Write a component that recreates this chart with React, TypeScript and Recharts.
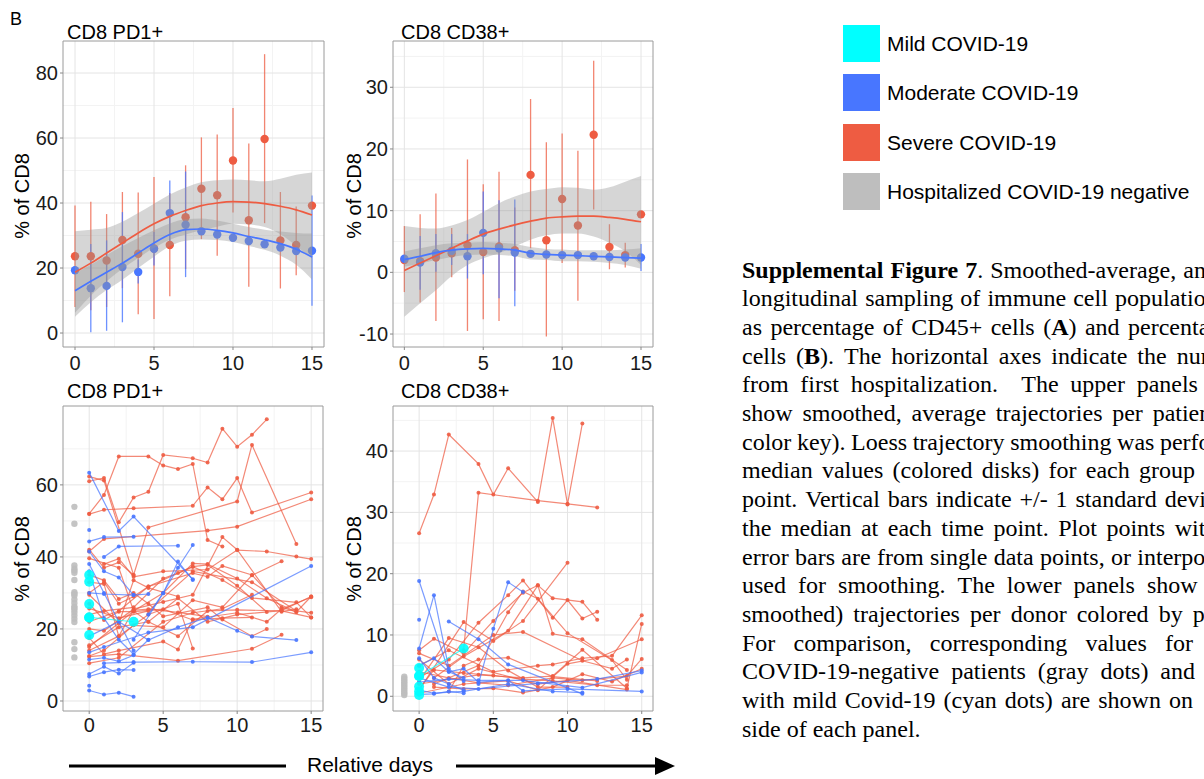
import React from 'react';
import {
  ComposedChart,
  Scatter,
  Line,
  Area,
  XAxis,
  YAxis,
  CartesianGrid,
  ErrorBar,
  ReferenceArea,
} from 'recharts';

const SEVERE = '#EE5C42';
const MODERATE = '#4876FF';
const MILD = '#00FFFF';
const NEGATIVE = '#BEBEBE';
const SANS = '"Liberation Sans", Arial, Helvetica, sans-serif';
const SERIF = '"Liberation Serif", "Times New Roman", Times, serif';

type Track = [number, number][];

// ---------- shared axis values ----------
const days = [0, 1, 2, 3, 4, 5, 6, 7, 8, 9, 10, 11, 12, 13, 14, 15];
const dayTicks = [0, 5, 10, 15];
const dayMinor = [2.5, 7.5, 12.5];

// ---------- CD8 PD1+ : group summaries ----------
const pd1SevereMedian = [23.6, 23.6, 22.3, 28.6, 24.4, 26.0, 27.1, 35.6, 44.4, 42.4, 53.1, 34.7, 59.7, 28.5, 27.1, 39.2];
const pd1SevereLow = [8.0, 7.0, 8.0, 13.8, 5.8, 4.3, 11.3, 19.7, 28.9, 23.8, 37.1, 14.2, 33.8, 13.7, 17.8, null];
const pd1SevereHigh = [39.2, 40.4, 36.6, 43.4, 43.2, 48.0, 43.1, 51.6, 60.2, 61.1, 69.2, 58.3, 85.8, 43.4, 38.9, null];
const pd1ModerateMedian = [19.3, 13.8, 14.5, 20.3, 18.8, 25.9, 36.9, 33.3, 31.3, 30.3, 29.3, 28.3, 27.3, 26.3, 25.2, 25.3];
const pd1ModerateLow = [null, 0.2, 0.7, 3.3, 15.2, 20.8, 27.0, 17.2, null, null, null, null, null, null, null, 8.4];
const pd1ModerateHigh = [null, 27.4, 28.5, 37.2, 22.6, 31.1, 46.9, 49.7, null, null, null, null, null, null, null, 42.3];

const pd1SevereFit = [18.7, 21.5, 24.6, 27.7, 30.8, 33.6, 35.9, 37.7, 39.2, 40.0, 40.4, 40.3, 39.8, 39.0, 37.9, 36.3];
const pd1SevereFitLow = [6.2, 11.5, 15.9, 19.8, 23.1, 26.2, 28.7, 30.3, 31.6, 32.7, 33.6, 33.4, 32.6, 30.4, 26.8, 23.0];
const pd1SevereFitHigh = [31.3, 31.8, 32.3, 34.2, 36.9, 39.8, 42.6, 44.8, 46.4, 47.0, 47.2, 47.0, 46.7, 47.5, 48.7, 49.4];
const pd1ModerateFit = [13.0, 15.9, 18.7, 21.5, 24.6, 27.7, 30.3, 31.8, 32.0, 31.6, 30.8, 29.7, 28.7, 27.5, 25.8, 23.4];
const pd1ModerateFitLow = [5.0, 9.5, 13.2, 16.4, 20.0, 23.5, 26.7, 28.4, 28.8, 28.6, 28.0, 26.8, 25.6, 23.8, 21.0, 16.5];
const pd1ModerateFitHigh = [18.5, 21.0, 24.0, 26.7, 29.2, 31.6, 33.7, 35.0, 35.2, 34.6, 33.6, 32.6, 31.8, 31.2, 30.8, 30.6];

// ---------- CD8 CD38+ : group summaries ----------
const cd38SevereMedian = [2.0, 1.8, 2.4, 3.1, 4.4, 3.3, 4.2, 3.6, 15.8, 5.2, 11.9, 7.6, 22.3, 4.1, 2.8, 9.4];
const cd38SevereLow = [-3.2, -4.9, -7.9, -0.8, -9.5, -7.6, -7.9, -3.0, 3.9, -10.4, 1.5, -4.6, 10.2, 0.5, 0.8, null];
const cd38SevereHigh = [7.5, 9.4, 12.8, 7.2, 18.3, 14.3, 16.3, 10.5, 28.1, 21.1, 22.5, 19.7, 34.3, 7.8, 4.8, null];
const cd38ModerateMedian = [2.2, 1.6, 3.1, 3.5, 2.6, 6.4, 3.9, 3.2, 3.0, 2.9, 2.8, 2.8, 2.6, 2.5, 2.4, 2.4];
const cd38ModerateLow = [null, -2.8, 0.1, 1.2, -1.0, -0.3, -4.2, -5.5, null, null, null, null, null, null, null, 0.2];
const cd38ModerateHigh = [null, 5.9, 6.2, 6.2, 6.2, 13.1, 11.7, 11.8, null, null, null, null, null, null, null, 4.6];

const cd38SevereFit = [0.3, 1.5, 2.7, 3.9, 5.1, 6.2, 7.0, 7.7, 8.3, 8.8, 9.0, 9.1, 9.1, 8.9, 8.6, 8.2];
const cd38SevereFitLow = [-7.2, -5.0, -2.9, -0.6, 1.2, 2.3, 3.1, 4.2, 5.3, 6.0, 6.3, 6.3, 5.8, 4.8, 3.4, 1.2];
const cd38SevereFitHigh = [7.5, 7.2, 7.1, 7.6, 8.5, 9.8, 11.2, 12.3, 13.1, 13.5, 13.8, 13.7, 13.4, 13.8, 14.7, 15.6];
const cd38ModerateFit = [2.1, 2.6, 3.2, 3.6, 3.8, 3.9, 3.8, 3.6, 3.1, 2.9, 2.8, 2.7, 2.6, 2.5, 2.4, 2.3];
const cd38ModerateFitLow = [0.9, 1.4, 2.0, 2.5, 2.8, 2.9, 2.8, 2.6, 2.1, 2.0, 1.8, 1.8, 1.7, 1.5, 1.2, 0.6];
const cd38ModerateFitHigh = [3.4, 3.9, 4.4, 4.7, 4.8, 4.9, 4.8, 4.6, 4.1, 3.8, 3.7, 3.6, 3.6, 3.6, 3.7, 3.9];

// ---------- CD8 PD1+ : per-donor trajectories ----------
const pd1SevereTracks: Track[] = [
  [[0, 52.0], [1, 57.2], [2, 67.9], [4, 67.9], [5, 65.4], [6, 64.4], [7, 65.8], [8, 44.7], [9, 42.9]],
  [[0, 61.0], [1, 61.9], [2, 49.6], [3, 56.5], [4, 58.1], [5, 68.3], [7, 67.4], [8, 66.2], [9, 75.6], [10, 70.6], [11, 73.9], [12, 78.2]],
  [[0, 51.9], [1, 53.1], [3, 53.5], [7, 54.2], [8, 59.3], [9, 56.0], [10, 61.9], [11, 52.3], [15, 57.9]],
  [[0, 62.3], [1, 61.2], [3, 35.0], [4, 48.2], [10, 55.4], [11, 71.1], [14, 43.6]],
  [[0, 41.5], [1, 45.0], [8, 47.3], [10, 48.4], [15, 56.0]],
  [[1, 38.0], [2, 39.5], [3, 34.5], [5, 36.0], [8, 36.5], [10, 41.9], [12, 41.5], [14, 40.1], [15, 39.4]],
  [[0, 15.0], [3, 25.0], [5, 30.0], [7, 38.2], [8, 38.0], [10, 34.0], [12, 28.5], [14, 24.7], [15, 29.0]],
  [[0, 22.0], [2, 25.0], [4, 31.8], [7, 37.3], [9, 33.6], [11, 28.6], [14, 27.4], [15, 23.2]],
  [[0, 12.5], [1, 14.0], [3, 21.0], [5, 20.5], [7, 28.0], [9, 26.0], [11, 34.9], [13, 38.8]],
  [[0, 25.7], [2, 23.0], [4, 25.0], [7, 36.0], [11, 33.0], [14, 25.0], [15, 24.5]],
  [[0, 30.0], [1, 33.0], [2, 27.0], [3, 29.0], [4, 31.8], [7, 35.5], [8, 34.5], [9, 37.5], [11, 35.0], [13, 26.0], [14, 24.7]],
  [[0, 12.3], [2, 13.0], [6, 11.2], [11, 14.5], [13, 18.4]],
  [[0, 14.0], [2, 18.0], [4, 24.0], [6, 27.0], [7, 14.6]],
  [[0, 35.0], [1, 33.5], [2, 28.3], [3, 30.0], [4, 27.0], [5, 23.5], [8, 26.0], [9, 22.6], [11, 18.0], [12, 20.0]],
  [[0, 20.0], [1, 19.5], [3, 25.5], [5, 27.5], [7, 29.5], [9, 45.5], [10, 42.0], [13, 24.8], [14, 25.5]],
  [[0, 39.6], [2, 37.0], [3, 25.0], [4, 22.0], [6, 18.0], [8, 25.0], [10, 25.3], [13, 25.0], [15, 23.2]],
  [[0, 27.0], [1, 22.5], [2, 24.8], [3, 24.8], [5, 25.5], [7, 22.5], [9, 23.0], [11, 23.2]],
  [[0, 17.5], [1, 13.0], [2, 14.0], [5, 16.5], [6, 14.3], [7, 22.7], [10, 24.5], [12, 22.0], [13, 25.5], [15, 28.8]],
  [[0, 10.5], [2, 12.0], [5, 22.0], [7, 24.5], [9, 25.6], [11, 29.5]],
  [[0, 24.0], [1, 25.0], [3, 26.0], [5, 34.0], [6, 35.5], [7, 37.3], [8, 37.8], [10, 32.0], [12, 24.7]],
  [[0, 15.5], [2, 20.5], [4, 22.0], [6, 28.5], [8, 22.0], [10, 24.0], [13, 25.1], [15, 29.0]],
  [[0, 33.0], [1, 32.5], [2, 18.0], [3, 25.2], [4, 25.5], [6, 24.6], [8, 23.4]],
  [[0, 29.5], [2, 21.5], [3, 33.5], [4, 31.4], [6, 29.0]],
  [[0, 42.0], [1, 37.0], [2, 38.5], [3, 35.0]],
];

const pd1ModerateTracks: Track[] = [
  [[0, 2.9], [1, 1.8], [2, 2.3], [3, 1.2]],
  [[0, 4.2]],
  [[0, 6.8], [1, 8.0], [2, 8.7], [3, 8.6]],
  [[0, 7.5], [1, 9.5], [2, 7.6], [3, 10.6]],
  [[1, 10.5], [3, 10.8], [7, 10.9], [11, 10.8], [15, 13.5]],
  [[0, 13.5], [1, 15.0], [4, 19.0], [7, 20.5], [15, 37.5]],
  [[0, 63.4], [2, 47.2], [3, 51.2], [7, 33.8]],
  [[0, 44.3], [1, 45.5], [3, 45.6]],
  [[1, 40.0], [2, 42.9], [6, 43.1]],
  [[0, 41.5], [1, 36.0], [2, 34.3], [3, 29.4], [4, 29.7]],
  [[0, 30.0], [1, 29.7], [3, 29.4]],
  [[0, 18.0], [2, 22.0], [4, 16.9], [6, 20.5], [8, 23.2], [10, 19.5], [11, 17.9], [14, 16.9]],
  [[3, 17.0], [5, 29.9], [6, 38.7], [7, 33.6]],
  [[4, 24.0], [5, 30.0], [6, 37.0], [7, 43.3]],
  [[0, 36.0], [1, 23.0], [2, 17.0], [3, 13.0], [4, 17.0]],
  [[0, 38.0], [1, 30.0], [3, 14.0]],
  [[0, 47.5]],
  [[0, 11.5], [1, 12.0], [2, 11.0], [3, 12.7]],
];

const pd1Negative = [53.9, 49.2, 37.6, 36.7, 36.2, 35.6, 33.6, 30.2, 29.8, 29.3, 28.2, 27.2, 26.2, 25.8, 25.3, 24.6, 23.7, 22.8, 21.9, 16.3, 14.4, 12.1];
const pd1Mild = [35.0, 33.1, 26.9, 23.2, 18.3];
const pd1MildTrack: Track = [[0, 23.2], [3, 22.0]];

// ---------- CD8 CD38+ : per-donor trajectories ----------
const cd38SevereTracks: Track[] = [
  [[0, 26.6], [1, 32.9], [2, 42.7], [4, 37.9], [5, 32.9], [6, 37.2], [8, 31.7], [9, 45.4], [10, 31.3], [11, 44.5]],
  [[3, 7.5], [4, 33.2], [8, 31.9], [10, 31.4], [12, 30.8]],
  [[0, 3.0], [2, 6.0], [4, 12.0], [6, 16.5], [7, 18.9], [9, 12.8], [10, 15.7], [11, 12.7], [12, 13.8]],
  [[0, 7.5], [1, 9.4], [3, 7.0], [5, 12.3], [7, 16.9], [8, 18.1], [9, 10.2], [11, 9.3], [14, 4.3]],
  [[1, 2.0], [4, 5.0], [6, 13.7], [7, 17.1], [8, 15.9], [10, 10.3], [13, 5.9], [14, 2.7]],
  [[0, 1.0], [3, 12.1], [5, 9.0], [7, 12.3], [10, 21.8]],
  [[1, 3.0], [3, 6.5], [6, 10.7], [8, 18.1], [9, 16.0], [11, 15.4], [12, 12.5]],
  [[0, 5.0], [2, 7.5], [5, 4.0], [8, 5.0], [9, 5.2], [11, 6.2], [13, 6.6], [15, 13.2]],
  [[0, 2.0], [4, 3.5], [7, 3.0], [9, 3.3], [11, 7.6], [14, 1.3], [15, 11.8]],
  [[0, 0.5], [3, 2.0], [6, 2.5], [8, 1.0], [10, 5.3], [12, 6.2], [15, 9.3]],
  [[0, 4.0], [2, 3.0], [4, 2.2], [6, 1.8], [9, 3.0], [11, 2.6], [14, 3.3], [15, 6.1]],
  [[1, 1.5], [3, 1.2], [5, 1.3], [7, 0.6], [9, 1.5], [11, 3.6], [13, 2.4], [15, 4.5]],
  [[0, 6.0], [2, 2.0], [4, 4.5], [8, 2.0], [10, 2.6], [14, 1.1]],
  [[0, 2.5], [2, 9.5], [4, 8.0], [6, 4.2], [8, 1.5], [10, 1.5]],
  [[0, 1.2], [1, 4.3], [3, 3.8], [5, 3.4], [7, 2.8], [9, 2.5], [12, 1.8], [14, 1.8]],
  [[2, 0.8], [3, 5.0], [4, 6.0], [6, 6.3], [9, 3.2], [12, 2.5]],
  [[0, 7.0], [2, 5.0], [5, 10.0], [7, 10.5], [11, 5.8], [13, 4.5], [14, 6.0]],
];

const cd38ModerateTracks: Track[] = [
  [[0, 18.8], [2, 4.0], [3, 3.0]],
  [[0, 7.8], [1, 16.5], [2, 4.5], [3, 2.5]],
  [[0, 12.5]],
  [[2, 12.2], [4, 9.3], [6, 5.2], [11, 0.4]],
  [[4, 2.0], [5, 11.0], [6, 18.6], [7, 17.0]],
  [[0, 5.0], [1, 6.2], [2, 4.0], [3, 4.5], [4, 2.3], [6, 2.6], [7, 0.9], [10, 1.2], [15, 0.8]],
  [[0, 3.0], [2, 1.5], [4, 1.2], [8, 2.1], [12, 2.8], [15, 4.2]],
  [[0, 1.0], [1, 0.5], [3, 0.8], [6, 2.0], [9, 0.8], [11, 0.6]],
  [[0, 6.2], [1, 3.0], [2, 2.0], [3, 1.0]],
  [[0, 0.3], [1, 0.4], [2, 0.8], [3, 0.5]],
  [[0, 2.3], [2, 2.8], [4, 2.6], [7, 2.6], [11, 1.4], [15, 3.9]],
];

const cd38Negative = [0.2, 0.5, 0.8, 1.1, 1.4, 1.7, 2.0, 2.3, 2.6, 2.9, 3.2];
const cd38Mild = [4.6, 3.3, 1.6, 0.8, 0.2];
const cd38MildTrack: Track = [[0, 3.3], [3, 7.8]];

// ---------- legend & caption text ----------
const legendLabels = ['Mild COVID-19', 'Moderate COVID-19', 'Severe COVID-19', 'Hospitalized COVID-19 negative'];
const legendColors = [MILD, MODERATE, SEVERE, NEGATIVE];

const captionLines: { words: string[]; width: number | null }[] = [
  { words: ['**Supplemental**', '**Figure**', '**7**.', 'Smoothed-average,', 'and'], width: 476 },
  { words: ['longitudinal', 'sampling', 'of', 'immune', 'cell', 'populations'], width: 485 },
  { words: ['as', 'percentage', 'of', 'CD45+', 'cells', '(**A**)', 'and', 'percentage'], width: 490 },
  { words: ['cells', '(**B**).', 'The', 'horizontal', 'axes', 'indicate', 'the', 'number'], width: 508 },
  { words: ['from', 'first', 'hospitalization.', '', 'The', 'upper', 'panels'], width: 456 },
  { words: ['show', 'smoothed,', 'average', 'trajectories', 'per', 'patient'], width: 476 },
  { words: ['color', 'key).', 'Loess', 'trajectory', 'smoothing', 'was', 'performed'], width: 518 },
  { words: ['median', 'values', '(colored', 'disks)', 'for', 'each', 'group'], width: 453 },
  { words: ['point.', 'Vertical', 'bars', 'indicate', '+/-', '1', 'standard', 'deviation'], width: 512 },
  { words: ['the', 'median', 'at', 'each', 'time', 'point.', 'Plot', 'points', 'without'], width: 506 },
  { words: ['error', 'bars', 'are', 'from', 'single', 'data', 'points,', 'or', 'interpolated'], width: 510 },
  { words: ['used', 'for', 'smoothing.', 'The', 'lower', 'panels', 'show', 'the'], width: 497 },
  { words: ['smoothed)', 'trajectories', 'per', 'donor', 'colored', 'by', 'patient'], width: 516 },
  { words: ['For', 'comparison,', 'corresponding', 'values', 'for'], width: 451 },
  { words: ['COVID-19-negative', 'patients', '(gray', 'dots)', 'and'], width: 453 },
  { words: ['with', 'mild', 'Covid-19', '(cyan', 'dots)', 'are', 'shown', 'on'], width: 451 },
  { words: ['side of each panel.'], width: null },
];

// ---------- data builders ----------
const band = (lo: number[], hi: number[], i: number) => [lo[i], hi[i]];

const buildRows = (
  sFit: number[], sLo: number[], sHi: number[],
  mFit: number[], mLo: number[], mHi: number[],
) =>
  days.map((d, i) => ({
    d,
    sFit: sFit[i],
    sBand: band(sLo, sHi, i),
    mFit: mFit[i],
    mBand: band(mLo, mHi, i),
  }));

const medianPoints = (median: number[]) => days.map((d, i) => ({ d, v: median[i] }));

const barPoints = (median: number[], low: (number | null)[], high: (number | null)[]) =>
  days
    .map((d, i) => ({ d, i }))
    .filter(({ i }) => low[i] != null && high[i] != null)
    .map(({ d, i }) => ({ d, v: median[i], err: [median[i] - (low[i] as number), (high[i] as number) - median[i]] }));

const trackPoints = (t: Track) => t.map(([d, v]) => ({ d, v }));
const columnPoints = (d: number, vals: number[]) => vals.map((v) => ({ d, v }));

// ---------- shapes ----------
const dot = (r: number, fill: string, opacity = 1) => (p: any) =>
  <circle cx={p.cx} cy={p.cy} r={r} fill={fill} fillOpacity={opacity} />;
const noShape = () => <g />;

// ---------- panel frame ----------
type Frame = {
  left: number;
  plotLeft: number;
  plotRight: number;
  plotTop: number;
  plotBottom: number;
  xAxisHeight: number;
  xTickGap: number;
  xDomain: [number, number];
  yDomain: [number, number];
  yTicks: number[];
  yMinor: number[];
};

const tickText = { fontSize: 20, fill: '#1a1a1a', fontFamily: SANS };

function frameParts(f: Frame) {
  return [
    <CartesianGrid key="gmin" horizontalValues={f.yMinor} verticalValues={dayMinor} stroke="#f3f3f3" strokeWidth={1} />,
    <CartesianGrid key="gmaj" horizontalValues={f.yTicks} verticalValues={dayTicks} stroke="#e4e4e4" strokeWidth={1} />,
    <XAxis
      key="x"
      type="number"
      dataKey="d"
      domain={f.xDomain}
      ticks={dayTicks}
      interval={0}
      allowDataOverflow
      height={f.xAxisHeight}
      axisLine={false}
      tickLine={{ stroke: '#888' }}
      tickSize={3}
      tickMargin={f.xTickGap}
      tick={tickText}
    />,
    <YAxis
      key="y"
      type="number"
      dataKey="v"
      domain={f.yDomain}
      ticks={f.yTicks}
      interval={0}
      allowDataOverflow
      width={f.plotLeft - f.left}
      axisLine={false}
      tickLine={{ stroke: '#888' }}
      tickSize={3}
      tickMargin={2}
      tick={tickText}
    />,
    <ReferenceArea
      key="border"
      x1={f.xDomain[0]}
      x2={f.xDomain[1]}
      y1={f.yDomain[0]}
      y2={f.yDomain[1]}
      fill="none"
      stroke="#9a9a9a"
      strokeWidth={1}
      ifOverflow="visible"
    />,
  ];
}

function PanelBox({ f, children, data }: { f: Frame; children: React.ReactNode; data?: any[] }) {
  const width = f.plotRight + 2 - f.left;
  const height = 2 + (f.plotBottom - f.plotTop) + f.xAxisHeight;
  return (
    <div style={{ position: 'absolute', left: f.left, top: f.plotTop - 2 }}>
      <ComposedChart
        width={width}
        height={height}
        data={data}
        margin={{ top: 2, right: 2, bottom: 0, left: 0 }}
        style={{ fontFamily: SANS }}
      >
        {frameParts(f)}
        {children}
      </ComposedChart>
    </div>
  );
}

// ---------- frames ----------
const frameTL: Frame = {
  left: 0, plotLeft: 63, plotRight: 324, plotTop: 41, plotBottom: 347,
  xAxisHeight: 36, xTickGap: 6, xDomain: [-0.76, 15.76], yDomain: [-4.3, 89.85],
  yTicks: [0, 20, 40, 60, 80], yMinor: [10, 30, 50, 70],
};
const frameTR: Frame = {
  left: 330, plotLeft: 393, plotRight: 653, plotTop: 41, plotBottom: 347,
  xAxisHeight: 36, xTickGap: 6, xDomain: [-0.72, 15.76], yDomain: [-12.1, 37.5],
  yTicks: [-10, 0, 10, 20, 30], yMinor: [-5, 5, 15, 25, 35],
};
const frameBL: Frame = {
  left: 0, plotLeft: 63, plotRight: 323, plotTop: 406, plotBottom: 711,
  xAxisHeight: 30, xTickGap: 4, xDomain: [-1.77, 15.8], yDomain: [-2.78, 81.9],
  yTicks: [0, 20, 40, 60], yMinor: [10, 30, 50, 70],
};
const frameBR: Frame = {
  left: 330, plotLeft: 393, plotRight: 653, plotTop: 406, plotBottom: 711,
  xAxisHeight: 30, xTickGap: 4, xDomain: [-1.76, 15.76], yDomain: [-2.4, 47.35],
  yTicks: [0, 10, 20, 30, 40], yMinor: [5, 15, 25, 35, 45],
};

// ---------- panels ----------
function SummaryPanel(props: {
  f: Frame;
  rows: any[];
  sMedian: number[]; sLow: (number | null)[]; sHigh: (number | null)[];
  mMedian: number[]; mLow: (number | null)[]; mHigh: (number | null)[];
}) {
  const { f, rows } = props;
  return (
    <PanelBox f={f} data={rows}>
      <Scatter data={barPoints(props.sMedian, props.sLow, props.sHigh)} dataKey="v" shape={noShape} isAnimationActive={false}>
        <ErrorBar dataKey="err" direction="y" width={0} stroke={SEVERE} strokeWidth={1.3} strokeOpacity={0.75} isAnimationActive={false} />
      </Scatter>
      <Scatter data={barPoints(props.mMedian, props.mLow, props.mHigh)} dataKey="v" shape={noShape} isAnimationActive={false}>
        <ErrorBar dataKey="err" direction="y" width={0} stroke={MODERATE} strokeWidth={1.3} strokeOpacity={0.8} isAnimationActive={false} />
      </Scatter>
      <Scatter data={medianPoints(props.sMedian)} dataKey="v" shape={dot(4.2, SEVERE)} isAnimationActive={false} />
      <Scatter data={medianPoints(props.mMedian)} dataKey="v" shape={dot(4.2, MODERATE)} isAnimationActive={false} />
      <Area type="monotone" dataKey="sBand" stroke="none" fill="#999999" fillOpacity={0.4} isAnimationActive={false} zIndex={650} />
      <Area type="monotone" dataKey="mBand" stroke="none" fill="#999999" fillOpacity={0.4} isAnimationActive={false} zIndex={650} />
      <Line type="monotone" dataKey="sFit" stroke={SEVERE} strokeWidth={1.7} dot={false} activeDot={false} isAnimationActive={false} zIndex={700} />
      <Line type="monotone" dataKey="mFit" stroke={MODERATE} strokeWidth={1.7} dot={false} activeDot={false} isAnimationActive={false} zIndex={700} />
    </PanelBox>
  );
}

function TrackPanel(props: {
  f: Frame;
  severe: Track[];
  moderate: Track[];
  negative: number[];
  mild: number[];
  mildTrack: Track;
}) {
  const { f } = props;
  return (
    <PanelBox f={f}>
      {props.severe.map((t, i) => (
        <Scatter
          key={'s' + i}
          data={trackPoints(t)}
          dataKey="v"
          line={{ stroke: SEVERE, strokeWidth: 1.2, strokeOpacity: 0.72 }}
          lineType="joint"
          shape={dot(2, SEVERE, 0.9)}
          isAnimationActive={false}
        />
      ))}
      {props.moderate.map((t, i) => (
        <Scatter
          key={'m' + i}
          data={trackPoints(t)}
          dataKey="v"
          line={{ stroke: MODERATE, strokeWidth: 1.2, strokeOpacity: 0.72 }}
          lineType="joint"
          shape={dot(2, MODERATE, 0.9)}
          isAnimationActive={false}
        />
      ))}
      <Scatter data={columnPoints(-1, props.negative)} dataKey="v" shape={dot(3.2, NEGATIVE, 0.9)} isAnimationActive={false} />
      <Scatter
        data={trackPoints(props.mildTrack)}
        dataKey="v"
        line={{ stroke: MILD, strokeWidth: 1.2, strokeOpacity: 0.7 }}
        lineType="joint"
        shape={dot(5, MILD, 0.9)}
        isAnimationActive={false}
      />
      <Scatter data={columnPoints(0, props.mild)} dataKey="v" shape={dot(5, MILD, 0.9)} isAnimationActive={false} />
    </PanelBox>
  );
}

// ---------- text helpers ----------
function RichWord({ w }: { w: string }) {
  const parts = w.split('**');
  return (
    <span>
      {parts.map((p, i) => (i % 2 === 1 ? <b key={i}>{p}</b> : <React.Fragment key={i}>{p}</React.Fragment>))}
    </span>
  );
}

const textDiv = (left: number, top: number, size: number, text: string) => (
  <div style={{ position: 'absolute', left, top, fontSize: size, lineHeight: 1, whiteSpace: 'nowrap', fontFamily: SANS }}>
    {text}
  </div>
);

const yLabel = (cx: number, cy: number) => (
  <div
    style={{
      position: 'absolute',
      left: cx - 60,
      top: cy - 12,
      width: 120,
      height: 24,
      lineHeight: '24px',
      fontSize: 20,
      textAlign: 'center',
      transform: 'rotate(-90deg)',
      fontFamily: SANS,
      whiteSpace: 'nowrap',
    }}
  >
    % of CD8
  </div>
);

const pd1Rows = buildRows(pd1SevereFit, pd1SevereFitLow, pd1SevereFitHigh, pd1ModerateFit, pd1ModerateFitLow, pd1ModerateFitHigh);
const cd38Rows = buildRows(cd38SevereFit, cd38SevereFitLow, cd38SevereFitHigh, cd38ModerateFit, cd38ModerateFitLow, cd38ModerateFitHigh);

export default function App() {
  const captionTop = 255.5;
  const captionStep = 28.7;
  return (
    <div
      style={{
        position: 'absolute',
        left: 0,
        top: 0,
        width: 1204,
        height: 779,
        background: '#ffffff',
        overflow: 'hidden',
        color: '#000',
        fontFamily: SANS,
      }}
    >
      {textDiv(10, 10, 18, 'B')}

      {textDiv(67, 22, 20, 'CD8 PD1+')}
      {textDiv(401, 22, 20, 'CD8 CD38+')}
      {textDiv(67, 381, 20, 'CD8 PD1+')}
      {textDiv(401, 381, 20, 'CD8 CD38+')}

      {yLabel(22, 196)}
      {yLabel(354, 196)}
      {yLabel(22, 559)}
      {yLabel(354, 559)}

      <SummaryPanel
        f={frameTL}
        rows={pd1Rows}
        sMedian={pd1SevereMedian} sLow={pd1SevereLow} sHigh={pd1SevereHigh}
        mMedian={pd1ModerateMedian} mLow={pd1ModerateLow} mHigh={pd1ModerateHigh}
      />
      <SummaryPanel
        f={frameTR}
        rows={cd38Rows}
        sMedian={cd38SevereMedian} sLow={cd38SevereLow} sHigh={cd38SevereHigh}
        mMedian={cd38ModerateMedian} mLow={cd38ModerateLow} mHigh={cd38ModerateHigh}
      />
      <TrackPanel
        f={frameBL}
        severe={pd1SevereTracks}
        moderate={pd1ModerateTracks}
        negative={pd1Negative}
        mild={pd1Mild}
        mildTrack={pd1MildTrack}
      />
      <TrackPanel
        f={frameBR}
        severe={cd38SevereTracks}
        moderate={cd38ModerateTracks}
        negative={cd38Negative}
        mild={cd38Mild}
        mildTrack={cd38MildTrack}
      />

      {/* group colour key */}
      {legendLabels.map((label, i) => (
        <div key={label} style={{ position: 'absolute', left: 843, top: 25 + i * 49.3, height: 37, display: 'flex', alignItems: 'center' }}>
          <div style={{ width: 37, height: 37, background: legendColors[i] }} />
          <div style={{ marginLeft: 7, fontSize: 21, lineHeight: '37px', whiteSpace: 'nowrap', fontFamily: SANS }}>{label}</div>
        </div>
      ))}

      {/* figure caption, running past the right edge */}
      {captionLines.map((line, i) => (
        <div
          key={i}
          style={{
            position: 'absolute',
            left: 742,
            top: captionTop + i * captionStep,
            height: captionStep,
            lineHeight: `${captionStep}px`,
            fontSize: 24,
            fontFamily: SERIF,
            whiteSpace: 'nowrap',
            display: 'flex',
            justifyContent: line.width ? 'space-between' : 'flex-start',
            width: line.width ?? undefined,
          }}
        >
          {line.words.map((w, j) => (
            <RichWord key={j} w={w} />
          ))}
        </div>
      ))}

      {/* time-direction arrow */}
      <svg style={{ position: 'absolute', left: 0, top: 750 }} width={700} height={32}>
        <line x1={69} y1={16} x2={286} y2={16} stroke="#000" strokeWidth={3} />
        <line x1={456} y1={16} x2={660} y2={16} stroke="#000" strokeWidth={3} />
        <polygon points="655,7 675,16 655,25" fill="#000" />
      </svg>
      {textDiv(307, 754, 21, 'Relative days')}
    </div>
  );
}
